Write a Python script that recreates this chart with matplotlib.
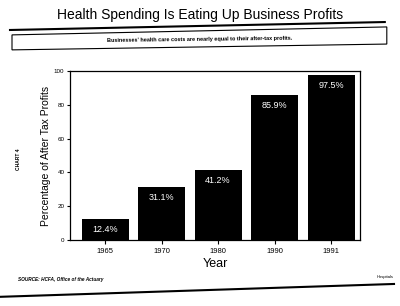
import matplotlib
matplotlib.use("Agg")
import matplotlib.pyplot as plt
from matplotlib.lines import Line2D
from matplotlib.patches import Polygon

years = ["1965", "1970", "1980", "1990", "1991"]
pct_profits = [12.4, 31.1, 41.2, 85.9, 97.5]
bar_labels = ["12.4%", "31.1%", "41.2%", "85.9%", "97.5%"]
y_ticks = [0, 20, 40, 60, 80, 100]

plt.rcParams["font.family"] = ["Liberation Sans", "DejaVu Sans"]

fig = plt.figure(figsize=(4.0, 3.06), dpi=100)
ax = fig.add_axes([0.175, 0.216, 0.725, 0.552])

x = list(range(len(years)))
ax.bar(x, pct_profits, width=0.83, color="black")
for xi, v, lab in zip(x, pct_profits, bar_labels):
    ax.text(xi, v - 3.5, lab, color="white", ha="center", va="top", fontsize=6.5)

ax.set_xlim(-0.62, 4.51)
ax.set_ylim(0, 100)
ax.set_xticks(x)
ax.set_xticklabels(years, fontsize=5.5)
ax.set_yticks(y_ticks)
ax.set_yticklabels([str(t) for t in y_ticks], fontsize=4.5)
ax.tick_params(axis="y", length=2, width=0.8, pad=2)
ax.tick_params(axis="x", length=3, width=0.8, pad=3)
for s in ax.spines.values():
    s.set_linewidth(0.9)
ax.set_xlabel("Year", fontsize=9, labelpad=2)
ax.set_ylabel("Percentage of After Tax Profits", fontsize=7.5, labelpad=2)

# page furniture
fig.text(0.5, 0.952, "Health Spending Is Eating Up Business Profits",
         ha="center", va="center", fontsize=10)
fig.add_artist(Line2D([0.025, 0.962], [0.902, 0.928], color="black", lw=1.5))
fig.add_artist(Polygon([(0.03, 0.886), (0.967, 0.912), (0.967, 0.856), (0.03, 0.837)],
                       closed=True, fill=False, edgecolor="black", lw=0.8))
fig.text(0.5, 0.872, "Businesses' health care costs are nearly equal to their after-tax profits.",
         ha="center", va="center", fontsize=4, fontweight="bold", rotation=0.7)
fig.text(0.045, 0.48, "CHART 4", rotation=90, ha="center", va="center",
         fontsize=3.5, fontweight="bold")
fig.text(0.045, 0.085, "SOURCE: HCFA, Office of the Actuary", ha="left", va="center",
         fontsize=3.4, fontstyle="italic", fontweight="bold")
fig.text(0.985, 0.095, "Hospitals", ha="right", va="center", fontsize=3)
fig.add_artist(Line2D([0.0, 0.985], [0.03, 0.072], color="black", lw=1.5))

fig.savefig("out.png", dpi=100)
